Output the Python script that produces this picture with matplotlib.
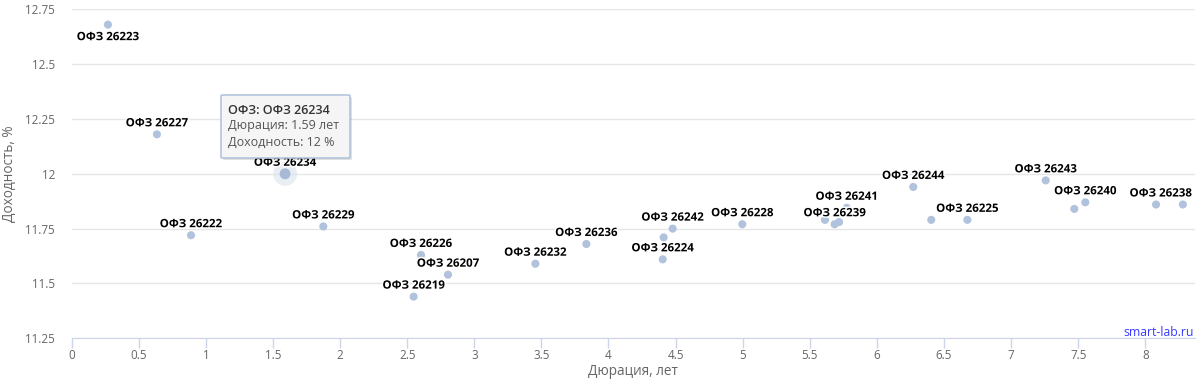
import matplotlib.pyplot as plt
import matplotlib.patheffects as pe
from matplotlib.patches import FancyBboxPatch

plt.rcParams['font.family'] = ['Open Sans', 'DejaVu Sans']

# Дюрация (лет) и доходность (%) выпусков ОФЗ
names = ['ОФЗ 26223', 'ОФЗ 26227', 'ОФЗ 26222', 'ОФЗ 26234', 'ОФЗ 26229',
         'ОФЗ 26219', 'ОФЗ 26226', 'ОФЗ 26207', 'ОФЗ 26232', 'ОФЗ 26236',
         'ОФЗ 26224', '', 'ОФЗ 26242', 'ОФЗ 26228', '', 'ОФЗ 26239', '',
         'ОФЗ 26241', 'ОФЗ 26244', '', 'ОФЗ 26225', 'ОФЗ 26243', '',
         'ОФЗ 26240', '', 'ОФЗ 26238']
durations = [0.27, 0.635, 0.889, 1.59, 1.875, 2.548, 2.603, 2.804, 3.455, 3.835,
             4.404, 4.411, 4.478, 4.997, 5.613, 5.685, 5.718, 5.775, 6.271, 6.405,
             6.674, 7.258, 7.471, 7.553, 8.08, 8.28]
yields = [12.68, 12.18, 11.72, 12.0, 11.76, 11.44, 11.63, 11.54, 11.59, 11.68,
          11.61, 11.71, 11.75, 11.77, 11.79, 11.77, 11.78, 11.845, 11.94, 11.79,
          11.79, 11.97, 11.84, 11.87, 11.86, 11.86]

x_ticks = [0, 0.5, 1, 1.5, 2, 2.5, 3, 3.5, 4, 4.5, 5, 5.5, 6, 6.5, 7, 7.5, 8]
x_ticklabels = ['0', '0.5', '1', '1.5', '2', '2.5', '3', '3.5', '4', '4.5',
                '5', '5.5', '6', '6.5', '7', '7.5', '8']
y_ticks = [11.25, 11.5, 11.75, 12, 12.25, 12.5, 12.75]
y_ticklabels = ['11.25', '11.5', '11.75', '12', '12.25', '12.5', '12.75']

hover = 'ОФЗ 26234'

W, H = 1200, 380
fig = plt.figure(figsize=(W / 100, H / 100), dpi=100)
px = 0.72  # 1 пиксель в пунктах

left, right, top, bottom = 71.7, 1195, 9.3, 338.3
ax = fig.add_axes([left / W, (H - bottom) / H, (right - left) / W, (bottom - top) / H])
ax.set_xlim(0, (right - left) / 134.2)
ax.set_ylim(11.25, 12.75)

ax.set_yticks(y_ticks)
ax.set_yticklabels(y_ticklabels)
ax.set_xticks(x_ticks)
ax.set_xticklabels(x_ticklabels)
ax.grid(axis='y', color='#e6e6e6', linewidth=1)
ax.set_axisbelow(True)
for s in ['top', 'right', 'left']:
    ax.spines[s].set_visible(False)
ax.spines['bottom'].set_color('#ccd6eb')
ax.spines['bottom'].set_zorder(0.5)
ax.tick_params(axis='y', length=0, pad=12, labelsize=8.4, labelcolor='#666666')
ax.tick_params(axis='x', length=7, width=1, color='#ccd6eb', pad=1,
               labelsize=8.4, labelcolor='#666666')

ax.set_xlabel('Дюрация, лет', fontsize=9.8, color='#666666')
ax.set_ylabel('Доходность, %', fontsize=9.8, color='#666666')
ax.xaxis.set_label_coords(0.5, -(364 - bottom) / (bottom - top))
ax.yaxis.set_label_coords(-(left - 17) / (right - left), 0.5)

col = '#b0c2dc'
ax.scatter(durations, yields, s=34, color=col, edgecolors='none', zorder=3)

# подсвеченная точка под курсором
i = names.index(hover)
ax.scatter([durations[i]], [yields[i]], s=300, color='#dbe3ef', alpha=0.6,
           edgecolors='none', zorder=3)
ax.scatter([durations[i]], [yields[i]], s=62, color='#a7b9d6',
           edgecolors='none', zorder=4)

outline = [pe.withStroke(linewidth=2.2, foreground='white')]
for n, xv, yv in zip(names, durations, yields):
    if not n:
        continue
    dx, dy, ha = 0, 11.5, 'center'
    if n == 'ОФЗ 26223':
        dy = -12
    if n == 'ОФЗ 26238':
        dx, ha = 9, 'right'
    ax.annotate(n, (xv, yv), xytext=(dx * px, dy * px), textcoords='offset points',
                ha=ha, va='center', fontsize=8.3, fontweight='bold', color='#000000',
                path_effects=outline, zorder=5)

# подсказка (tooltip)
tx0, ty0, tx1, ty1 = 221, 95, 350, 158
shadow = FancyBboxPatch(((tx0 + 2) / W, (H - ty1 - 2) / H), (tx1 - tx0) / W, (ty1 - ty0) / H,
                        boxstyle='round,pad=0,rounding_size=0.002', transform=fig.transFigure,
                        facecolor='#000000', alpha=0.12, edgecolor='none', zorder=8)
box = FancyBboxPatch((tx0 / W, (H - ty1) / H), (tx1 - tx0) / W, (ty1 - ty0) / H,
                     boxstyle='round,pad=0,rounding_size=0.002', transform=fig.transFigure,
                     facecolor='#f7f7f7', alpha=0.95, edgecolor='#b0c2dc', linewidth=1.2,
                     zorder=9)
fig.patches.extend([shadow, box])
fig.text(228 / W, 1 - 110 / H, 'ОФЗ: ' + hover, fontsize=9, color='#333333',
         fontweight='semibold', va='center', zorder=10)
fig.text(228 / W, 1 - 126 / H, 'Дюрация: %.2f лет' % durations[i], fontsize=9,
         color='#555555', va='center', zorder=10)
fig.text(228 / W, 1 - 142 / H, 'Доходность: %g %%' % yields[i], fontsize=9,
         color='#555555', va='center', zorder=10)

fig.text(1194 / W, 1 - 333 / H, 'smart-lab.ru', fontsize=8.8, color='#3a3aff',
         ha='right', va='center', zorder=10)

fig.savefig('out.png', dpi=100, facecolor='white')
